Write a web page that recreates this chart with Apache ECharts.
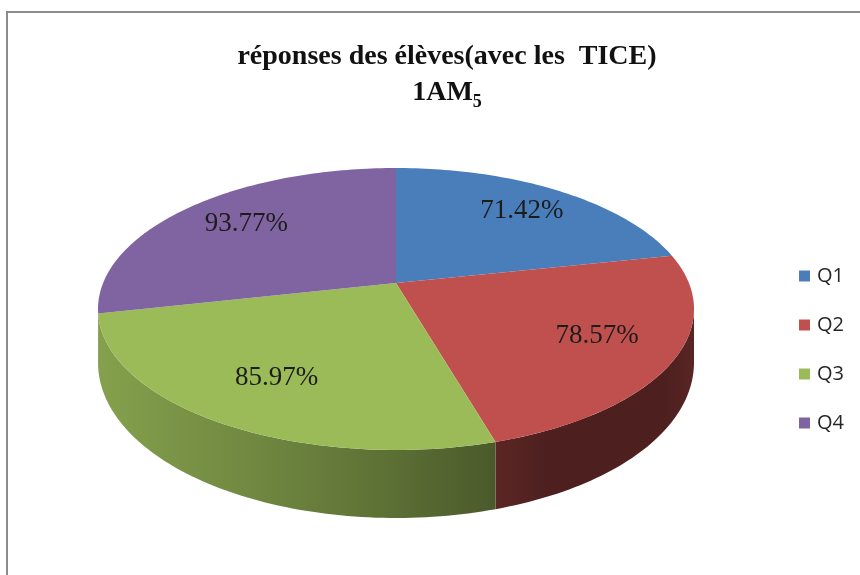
<!DOCTYPE html>
<html><head><meta charset="utf-8">
<script src="https://cdn.jsdelivr.net/npm/echarts@6/dist/echarts.min.js"></script>
<style>html,body{margin:0;padding:0;background:#fff}#c{width:860px;height:575px}</style>
</head><body><div id="c"></div>
<script>
const categories = ['Q1', 'Q2', 'Q3', 'Q4'];
const values = [71.42, 78.57, 85.97, 93.77];
const titleMain = 'réponses des élèves(avec les  TICE)';
const titleSub = ['1AM', '5'];
const palette = ['#4A7EBB', '#C0504D', '#9BBB59', '#8064A2'];

// 3D perspective pie geometry
const CX = 396, CY = 283, A = 292.9, B = 136.2, P = 0.1844;
const TWO_PI = Math.PI * 2;
function proj(th, r) {
  const u = r * Math.sin(th), v = r * Math.cos(th);
  const d = 1 + P * v;
  return [CX + A * u / d, CY - B * v / d];
}
function depth(th) { return 50 + 18 * Math.max(0, -Math.cos(th)); }
const TH_R = Math.acos(-P), TH_L = TWO_PI - Math.acos(-P);

function shadeFactor(u) {
  const pts = [[-1, 0.86], [-0.3, 0.68], [0.28, 0.5], [0.5, 0.4], [0.9, 0.4], [1, 0.47]];
  for (let k = 0; k < pts.length - 1; k++) {
    if (u <= pts[k + 1][0]) {
      const t = (u - pts[k][0]) / (pts[k + 1][0] - pts[k][0]);
      return pts[k][1] + t * (pts[k + 1][1] - pts[k][1]);
    }
  }
  return pts[pts.length - 1][1];
}
function shade(hex, f) {
  const n = parseInt(hex.slice(1), 16);
  const r = Math.round(((n >> 16) & 255) * f), g = Math.round(((n >> 8) & 255) * f), b = Math.round((n & 255) * f);
  return 'rgb(' + r + ',' + g + ',' + b + ')';
}
function sideGradient(hex) {
  const stops = [];
  for (let k = 0; k <= 20; k++) {
    const u = -1 + k * 0.1;
    stops.push({ offset: k / 20, color: shade(hex, shadeFactor(u)) });
  }
  return { type: 'linear', x: CX - 300, y: 0, x2: CX + 300, y2: 0, global: true, colorStops: stops };
}

const total = values.reduce((s, v) => s + v, 0);

function makeRender(i) {
  return function (params, api) {
    const val = api.value(0);
    const before = values.slice(0, i).reduce((s, v) => s + v, 0);
    const a0 = before / total * TWO_PI;
    const a1 = a0 + val / total * TWO_PI;
    const children = [];
    // side wall
    const s0 = Math.max(a0, TH_R), s1 = Math.min(a1, TH_L);
    if (s1 > s0) {
      const n = Math.max(2, Math.ceil((s1 - s0) / 0.02));
      const top = [], bot = [];
      for (let k = 0; k <= n; k++) {
        const th = s0 + (s1 - s0) * k / n;
        const p = proj(th, 1);
        top.push(p);
        bot.push([p[0], p[1] + depth(th)]);
      }
      children.push({ type: 'polygon', shape: { points: top.concat(bot.reverse()) },
        style: { fill: sideGradient(palette[i]) } });
    }
    // top face
    const pts = [proj(0, 0)];
    const n2 = Math.max(2, Math.ceil((a1 - a0) / 0.02));
    for (let k = 0; k <= n2; k++) pts.push(proj(a0 + (a1 - a0) * k / n2, 1));
    children.push({ type: 'polygon', shape: { points: pts }, style: { fill: palette[i] } });
    // label
    const lp = proj((a0 + a1) / 2, 0.73);
    children.push({ type: 'text', style: { text: val.toFixed(2) + '%', x: lp[0] + 4, y: lp[1] - 2,
      align: 'center', verticalAlign: 'middle', font: '27px "Liberation Serif"', fill: '#1c1c1c' } });
    return { type: 'group', children };
  };
}

const chart = echarts.init(document.getElementById('c'), null, { renderer: 'canvas' });
chart.setOption({
  backgroundColor: '#ffffff',
  animation: false,
  title: {
    text: titleMain + '\n' + titleSub[0] + '{s|' + titleSub[1] + '}',
    left: 442, top: 34, textAlign: 'center',
    textStyle: {
      fontFamily: '"Liberation Serif"', fontWeight: 'bold', fontSize: 28, lineHeight: 36, color: '#111',
      rich: { s: { fontFamily: '"Liberation Serif"', fontWeight: 'bold', fontSize: 18, lineHeight: 18, verticalAlign: 'bottom', color: '#111' } }
    }
  },
  legend: {
    data: categories, orient: 'vertical', left: 794, top: 261, itemWidth: 11, itemHeight: 11, itemGap: 29,
    icon: 'rect',
    textStyle: { fontFamily: '"Open Sans"', fontSize: 20, lineHeight: 20, color: '#262626', padding: [0, 0, 0, 2] }
  },
  graphic: [{ type: 'rect', shape: { x: 7, y: 12, width: 880, height: 600 }, style: { fill: 'none', stroke: '#8c8c8c', lineWidth: 2 }, silent: true }],
  series: categories.map((name, i) => ({
    type: 'custom', name, coordinateSystem: 'none', data: [[values[i]]],
    itemStyle: { color: palette[i] },
    renderItem: makeRender(i)
  }))
});
</script></body></html>
